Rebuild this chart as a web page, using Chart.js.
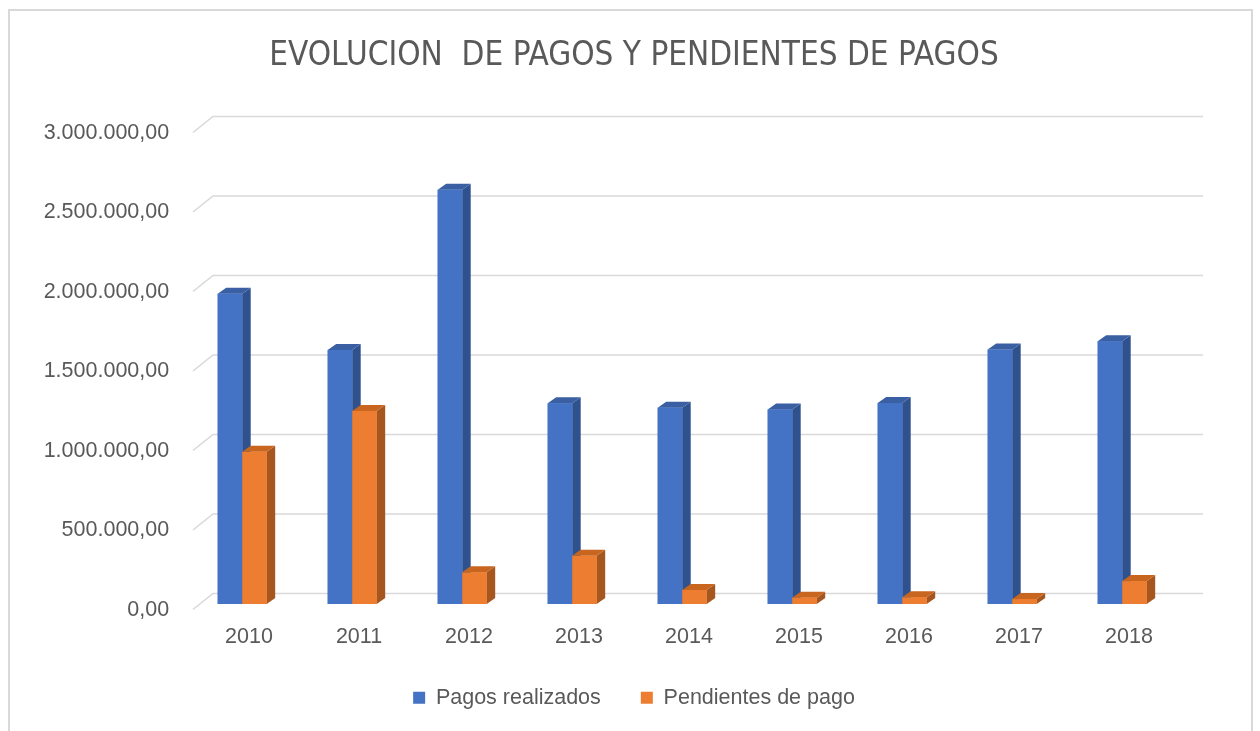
<!DOCTYPE html>
<html>
<head>
<meta charset="utf-8">
<script src="https://cdn.jsdelivr.net/npm/chart.js@4.4.1/dist/chart.umd.min.js"></script>
<style>
  html, body { margin: 0; padding: 0; background: #ffffff; }
  #wrap { position: relative; width: 1260px; height: 731px; }
</style>
</head>
<body>
<div id="wrap"><canvas id="c" width="1260" height="731"></canvas></div>
<script>
// ---- Data ----
const categories = ['2010', '2011', '2012', '2013', '2014', '2015', '2016', '2017', '2018'];
const pagosRealizados = [1952000, 1598000, 2605000, 1262000, 1235000, 1224000, 1264000, 1600000, 1653000];
const pendientesPago = [957000, 1214000, 199000, 303000, 88000, 40000, 42000, 31000, 144000];
const seriesNames = ['Pagos realizados', 'Pendientes de pago'];
const yMin = 0;
const yMax = 3000000;
const yStep = 500000;
const chartTitle = 'EVOLUCION  DE PAGOS Y PENDIENTES DE PAGOS';

// ---- Styles ----
const textColor = '#595959';
const gridColor = '#d9d9d9';
const faces = [
  { front: '#4472c4', side: '#2f528f', top: '#3a5fa3' },
  { front: '#ed7d31', side: '#a6561f', top: '#c8661f' }
];
const DEPTH_X = 8.5, DEPTH_Y = 6;

function formatEs(v) {
  const s = Math.round(v).toString();
  let out = '';
  for (let i = 0; i < s.length; i++) {
    if (i > 0 && (s.length - i) % 3 === 0) out += '.';
    out += s[i];
  }
  return out + ',00';
}

const frameBorder = {
  id: 'frameBorder',
  beforeDraw(chart) {
    const ctx = chart.ctx;
    ctx.save();
    ctx.fillStyle = '#ffffff';
    ctx.fillRect(0, 0, chart.width, chart.height);
    ctx.strokeStyle = '#d9d9d9';
    ctx.lineWidth = 2;
    ctx.strokeRect(9, 10, 1243, 800);
    ctx.restore();
  }
};

const wallGrid = {
  id: 'wallGrid',
  beforeDatasetsDraw(chart) {
    const ctx = chart.ctx;
    const ys = chart.scales.y;
    const ca = chart.chartArea;
    ctx.save();
    ctx.strokeStyle = gridColor;
    ctx.lineWidth = 1.6;
    ys.ticks.forEach(t => {
      const py = ys.getPixelForValue(t.value);
      ctx.beginPath();
      ctx.moveTo(ca.left + 5.8, py + 5.5);
      ctx.lineTo(ca.left + 25.8, py - 10.5);
      ctx.lineTo(ca.right + 25.8, py - 10.5);
      ctx.stroke();
    });
    ctx.restore();
  }
};

// Draws each bar as a 3D column (side, top, front), category by category,
// series in order so the right-hand column's front covers the left one's side.
const bars3d = {
  id: 'bars3d',
  afterDatasetsDraw(chart) {
    const ctx = chart.ctx;
    const metas = chart.data.datasets.map((d, i) => chart.getDatasetMeta(i));
    ctx.save();
    for (let c = 0; c < categories.length; c++) {
      metas.forEach((meta, si) => {
        const bar = meta.data[c];
        if (!bar) return;
        const f = faces[si];
        const p = bar.getProps(['x', 'y', 'base', 'width'], true);
        const l = p.x - p.width / 2, r = p.x + p.width / 2;
        const top = p.y, base = p.base;
        ctx.fillStyle = f.side;
        ctx.beginPath();
        ctx.moveTo(r, top);
        ctx.lineTo(r + DEPTH_X, top - DEPTH_Y);
        ctx.lineTo(r + DEPTH_X, base - DEPTH_Y);
        ctx.lineTo(r, base);
        ctx.closePath();
        ctx.fill();
        ctx.fillStyle = f.top;
        ctx.beginPath();
        ctx.moveTo(l, top);
        ctx.lineTo(l + DEPTH_X, top - DEPTH_Y);
        ctx.lineTo(r + DEPTH_X, top - DEPTH_Y);
        ctx.lineTo(r, top);
        ctx.closePath();
        ctx.fill();
        ctx.fillStyle = f.front;
        ctx.fillRect(l, top, r - l, base - top);
      });
    }
    ctx.restore();
  }
};

const labelFont = { family: "'Liberation Sans', Arial, sans-serif", size: 21.5 };

new Chart(document.getElementById('c'), {
  type: 'bar',
  data: {
    labels: categories,
    datasets: [
      { label: seriesNames[0], data: pagosRealizados, backgroundColor: faces[0].front, borderWidth: 0 },
      { label: seriesNames[1], data: pendientesPago, backgroundColor: faces[1].front, borderWidth: 0 }
    ]
  },
  options: {
    responsive: false,
    animation: false,
    devicePixelRatio: 1,
    layout: { padding: { left: 8, right: 0, top: 0, bottom: 12.5 } },
    datasets: { bar: { categoryPercentage: 0.4455, barPercentage: 1.0 } },
    plugins: {
      title: {
        display: true,
        text: chartTitle,
        color: textColor,
        font: { family: "'Liberation Sans Narrow', 'Arial Narrow', 'DejaVu Sans Condensed', sans-serif", size: 33, weight: 'normal', lineHeight: 1.2 },
        padding: { top: 37, bottom: 50.4 }
      },
      legend: {
        position: 'bottom',
        labels: {
          color: textColor,
          font: labelFont,
          boxWidth: 12,
          boxHeight: 12,
          padding: 40
        }
      },
      tooltip: { enabled: false }
    },
    scales: {
      x: {
        grid: { display: false, drawTicks: false },
        border: { display: false },
        ticks: { color: textColor, font: labelFont, padding: 20, labelOffset: 6.8 },
        afterFit(scale) { scale.height = 43; scale.paddingLeft = 0; scale.paddingRight = 0; }
      },
      y: {
        min: yMin,
        max: yMax,
        grid: { display: false, drawTicks: false },
        border: { display: false },
        ticks: {
          stepSize: yStep,
          color: textColor,
          font: labelFont,
          padding: 18,
          labelOffset: 6,
          callback: v => formatEs(v)
        },
        afterFit(scale) { scale.width = 179.2; scale.paddingTop = 0; scale.paddingBottom = 0; }
      },
      yRight: {
        type: 'linear',
        position: 'right',
        min: 0, max: 1,
        grid: { display: false, drawTicks: false },
        border: { display: false },
        ticks: { display: false },
        afterFit(scale) { scale.width = 82.8; scale.paddingTop = 0; scale.paddingBottom = 0; }
      }
    }
  },
  plugins: [frameBorder, wallGrid, bars3d]
});
</script>
</body>
</html>
